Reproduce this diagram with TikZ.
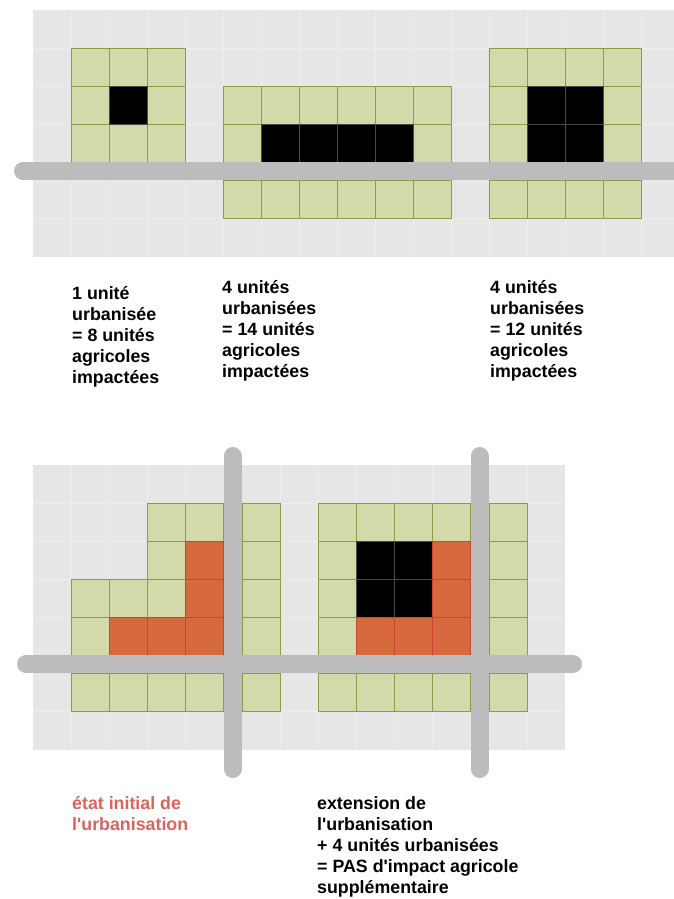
\documentclass[tikz,border=0pt]{standalone}
\usepackage{fontspec}
\setmainfont{Liberation Sans}[Ligatures=TeXOff]
\definecolor{bgc}{HTML}{E6E6E6}
\definecolor{gridc}{HTML}{EDEDED}
\definecolor{roadc}{HTML}{BCBCBC}
\definecolor{agrif}{HTML}{D3D9A8}
\definecolor{agrid}{HTML}{8C9B45}
\definecolor{urbf}{HTML}{D7693F}
\definecolor{urbd}{HTML}{C8452E}
\definecolor{blkd}{HTML}{4A4A4A}
\definecolor{redtxt}{HTML}{D9645C}
\tikzset{
  bgarea/.style={fill=bgc, draw=none},
  bgline/.style={draw=gridc, line width=0.8pt},
  road/.style={draw=roadc, line width=18pt, line cap=round},
  agri/.style={fill=agrif, draw=agrid, line width=0.8pt},
  urb/.style={fill=urbf, draw=urbd, line width=0.8pt},
  blk/.style={fill=black, draw=blkd, line width=0.6pt},
  lbl/.style={anchor=north west, inner sep=0pt, align=left,
    font=\fontsize{17.8}{21}\selectfont\bfseries},
}
\newcommand{\cellat}[3]{\path[#3] (#1,#2) rectangle ++(38,38);}
\begin{document}
\begin{tikzpicture}[x=1pt,y=-1pt]
\useasboundingbox (0,0) rectangle (674,899);
\fill[white] (0,0) rectangle (674,899);
% ---------- top panel ----------
\path[bgarea] (33,10) rectangle (674,257);
\foreach \x in {71,109,...,641} {\draw[bgline] (\x,10) -- (\x,257);}
\foreach \y in {48,86,124,218} {\draw[bgline] (33,\y) -- (674,\y);}
% group 1
\foreach \x in {71,109,147} {\foreach \y in {48,86,124} {\cellat{\x}{\y}{agri}}}
\cellat{109}{86}{blk}
% group 2
\foreach \x in {223,261,...,413} {\cellat{\x}{86}{agri} \cellat{\x}{124}{agri} \cellat{\x}{180}{agri}}
\foreach \x in {261,299,337,375} {\cellat{\x}{124}{blk}}
% group 3
\foreach \x in {489,527,565,603} {\cellat{\x}{48}{agri} \cellat{\x}{86}{agri} \cellat{\x}{124}{agri} \cellat{\x}{180}{agri}}
\foreach \x in {527,565} {\foreach \y in {86,124} {\cellat{\x}{\y}{blk}}}
% road
\coordinate (r1a) at (23,171);
\coordinate (r1b) at (690,171);
\draw[road] (r1a) -- (r1b);
% ---------- bottom panel ----------
\path[bgarea] (33,465) rectangle (565,750);
\foreach \x in {71,109,147,185,280,318,356,394,432,527} {\draw[bgline] (\x,465) -- (\x,750);}
\foreach \y in {503,541,579,617,711} {\draw[bgline] (33,\y) -- (565,\y);}
% left group
\foreach \x in {147,185,242} {\cellat{\x}{503}{agri}}
\foreach \x in {147,242} {\cellat{\x}{541}{agri}}
\cellat{185}{541}{urb}
\foreach \x in {71,109,147,242} {\cellat{\x}{579}{agri}}
\cellat{185}{579}{urb}
\foreach \x in {71,242} {\cellat{\x}{617}{agri}}
\foreach \x in {109,147,185} {\cellat{\x}{617}{urb}}
\foreach \x in {71,109,147,185,242} {\cellat{\x}{673}{agri}}
% right group
\foreach \x in {318,356,394,432,489} {\cellat{\x}{503}{agri} \cellat{\x}{673}{agri}}
\foreach \y in {541,579,617} {\cellat{318}{\y}{agri} \cellat{489}{\y}{agri}}
\foreach \x in {356,394} {\foreach \y in {541,579} {\cellat{\x}{\y}{blk}}}
\cellat{432}{541}{urb}
\cellat{432}{579}{urb}
\foreach \x in {356,394,432} {\cellat{\x}{617}{urb}}
% roads
\coordinate (r2a) at (26,664);
\coordinate (r2b) at (573,664);
\coordinate (v1a) at (232.5,456);
\coordinate (v1b) at (232.5,769);
\coordinate (v2a) at (479.5,456);
\coordinate (v2b) at (479.5,769);
\draw[road] (r2a) -- (r2b);
\draw[road] (v1a) -- (v1b);
\draw[road] (v2a) -- (v2b);
% ---------- labels ----------
\node[lbl] (t1) at (72,284) {\rule{0pt}{15pt}1 unité\\urbanisée\\= 8 unités\\agricoles\\impactées};
\node[lbl] (t2) at (222,278) {\rule{0pt}{15pt}4 unités\\urbanisées\\= 14 unités\\agricoles\\impactées};
\node[lbl] (t3) at (490,278) {\rule{0pt}{15pt}4 unités\\urbanisées\\= 12 unités\\agricoles\\impactées};
\node[lbl, text=redtxt] (t4) at (72,794) {\rule{0pt}{15pt}état initial de\\l'urbanisation};
\node[lbl] (t5) at (317,794) {\rule{0pt}{15pt}extension de\\l'urbanisation\\+ 4 unités urbanisées\\= PAS d'impact agricole\\supplémentaire};
\end{tikzpicture}
\end{document}
